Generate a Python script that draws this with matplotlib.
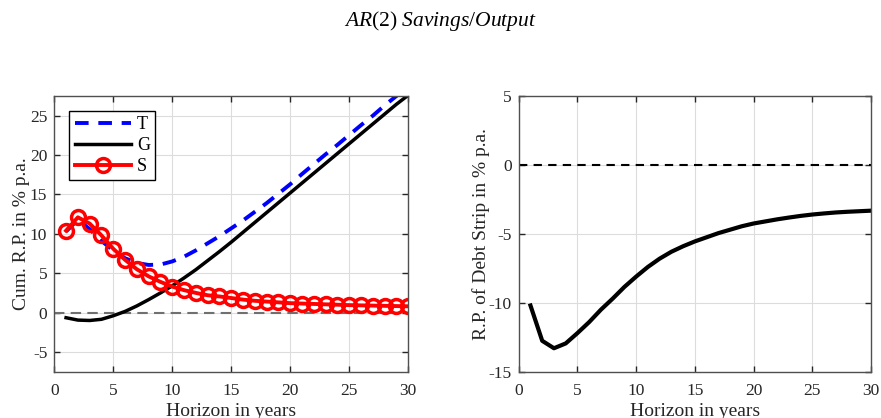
import matplotlib
matplotlib.use("Agg")
import matplotlib.pyplot as plt

plt.rcParams['font.family'] = ['Liberation Serif', 'DejaVu Serif']
plt.rcParams['mathtext.fontset'] = 'custom'
plt.rcParams['mathtext.rm'] = 'Liberation Serif'
plt.rcParams['mathtext.it'] = 'Liberation Serif:italic'
plt.rcParams['axes.unicode_minus'] = False

years = list(range(1, 31))

# cumulative risk premia (left panel)
T = [10.3, 11.8, 10.6, 9.1, 7.9, 6.9, 6.3, 6.05, 6.1, 6.5,
     7.1, 7.9, 8.8, 9.7, 10.7, 11.7, 12.8, 13.9, 15.1, 16.3,
     17.6, 18.85, 20.1, 21.3, 22.55, 23.8, 25.0, 26.3, 27.5, 28.7]
G = [-0.65, -0.95, -1.0, -0.85, -0.4, 0.15, 0.85, 1.65, 2.5, 3.4,
     4.4, 5.45, 6.6, 7.75, 8.95, 10.2, 11.45, 12.7, 13.95, 15.2,
     16.45, 17.7, 18.95, 20.2, 21.45, 22.7, 23.95, 25.2, 26.45, 27.6]
S = [10.4, 12.1, 11.3, 9.8, 8.1, 6.7, 5.5, 4.6, 3.9, 3.3,
     2.85, 2.5, 2.2, 2.05, 1.85, 1.65, 1.5, 1.4, 1.3, 1.2,
     1.15, 1.1, 1.05, 1.0, 0.95, 0.92, 0.89, 0.86, 0.83, 0.8]

# debt strip risk premium (right panel)
D = [-10.2, -12.76, -13.3, -12.95, -12.2, -11.4, -10.5, -9.7, -8.85, -8.1,
     -7.4, -6.8, -6.3, -5.9, -5.55, -5.25, -4.95, -4.7, -4.45, -4.25,
     -4.1, -3.95, -3.82, -3.7, -3.6, -3.52, -3.45, -3.4, -3.36, -3.32]

fig = plt.figure(figsize=(8.81, 4.18), dpi=100)
ax1 = fig.add_axes([0.0616, 0.1108, 0.4018, 0.6596])
ax2 = fig.add_axes([0.5888, 0.1108, 0.3999, 0.6596])

def style(ax):
    ax.set_xlim(0, 30)
    ax.set_xticks([0, 5, 10, 15, 20, 25, 30])
    ax.grid(True, color='#dcdcdc', lw=0.8)
    ax.set_axisbelow(True)
    ax.tick_params(direction='in', top=True, right=True, length=4,
                   width=1, colors='#262626', labelsize=12.5)
    ax.tick_params(axis='x', pad=8)
    ax.tick_params(axis='y', pad=5)
    for s in ax.spines.values():
        s.set_color('#505050')
        s.set_linewidth(1.0)
    ax.set_xlabel('Horizon in years', fontsize=14, color='#262626', labelpad=3)

ax1.axhline(0, color='#707070', ls=(0, (5, 3)), lw=1.5)
ax1.plot(years, T, color='#0000ff', ls=(0, (3.5, 2.5)), lw=2.8, label='T')
ax1.plot(years, G, color='black', lw=2.5, label='G')
ax1.plot(years, S, color='#ff0000', lw=2.8, marker='o', ms=10,
         mfc='none', mew=2.5, label='S')
ax1.set_ylim(-7.5, 27.5)
ax1.set_yticks([-5, 0, 5, 10, 15, 20, 25])
style(ax1)
ax1.set_ylabel('Cum. R.P. in % p.a.', fontsize=14, color='#262626', labelpad=0)
leg = ax1.legend(loc='upper left', bbox_to_anchor=(0.042, 0.947), fontsize=13,
                 handlelength=3.1, handletextpad=0.35, labelspacing=0.22,
                 borderpad=0.3, borderaxespad=0, fancybox=False, framealpha=1)
leg.get_frame().set_edgecolor('black')
leg.get_frame().set_linewidth(1.0)

ax2.axhline(0, color='black', ls=(0, (4, 3)), lw=1.5)
ax2.plot(years, D, color='black', lw=3)
ax2.set_ylim(-15, 5)
ax2.set_yticks([-15, -10, -5, 0, 5])
style(ax2)
ax2.set_ylabel('R.P. of Debt Strip in % p.a.', fontsize=14, color='#262626', labelpad=-1)

fig.text(0.5, 0.95, r'$\mathit{AR}(2)\ \mathit{Savings/Output}$', ha='center',
         va='center', fontsize=15.5)

fig.savefig('out.png', dpi=100)
